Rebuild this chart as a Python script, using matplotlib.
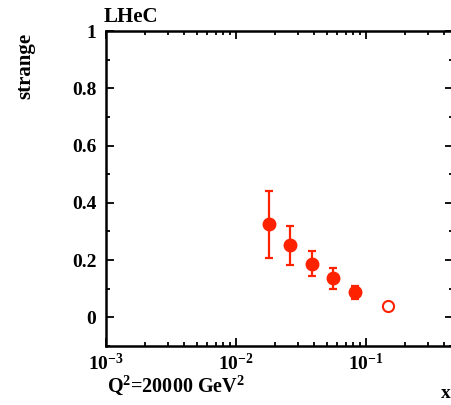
import matplotlib
matplotlib.use("Agg")
import matplotlib.pyplot as plt
from matplotlib.ticker import LogLocator, MultipleLocator, FixedLocator, NullFormatter

plt.rcParams['font.family'] = ['Liberation Serif', 'DejaVu Serif']
plt.rcParams['font.weight'] = 'bold'
plt.rcParams['mathtext.fontset'] = 'custom'
plt.rcParams['mathtext.rm'] = 'Liberation Serif:bold'
plt.rcParams['mathtext.it'] = 'Liberation Serif:bold'
plt.rcParams['mathtext.bf'] = 'Liberation Serif:bold'

red = '#ff2200'

# measured points (x, strange fraction, error)
x_meas = [0.018, 0.026, 0.0385, 0.056, 0.082]
s_meas = [0.325, 0.251, 0.188, 0.136, 0.087]
s_err = [0.117, 0.067, 0.045, 0.036, 0.024]

# open point without error
x_open = [0.148]
s_open = [0.038]

xticks = [1e-3, 1e-2, 1e-1]
xticklabels = ['$10^{-3}$', '$10^{-2}$', '$10^{-1}$']
yticks = [0, 0.2, 0.4, 0.6, 0.8, 1]
yticklabels = ['0', '0.2', '0.4', '0.6', '0.8', '1']

fig = plt.figure(figsize=(4.51, 4.05), dpi=100)
ax = fig.add_axes([106/451, 59/405, 347/451, 315/405])

ax.errorbar(x_meas, s_meas, yerr=s_err, fmt='o', color=red, ms=9, elinewidth=1.6,
            capsize=3, capthick=1.6)
ax.plot(x_open, s_open, 'o', mfc='white', mec=red, mew=1.5, ms=8)

ax.set_xscale('log')
ax.set_xlim(1e-3, 0.467)
ax.set_ylim(-0.1, 1)

ax.set_xticks(xticks)
ax.set_xticklabels(xticklabels)
ax.xaxis.set_minor_locator(LogLocator(base=10, subs=range(2, 10)))
ax.xaxis.set_minor_formatter(NullFormatter())
ax.set_yticks(yticks)
ax.set_yticklabels(yticklabels)
ax.yaxis.set_minor_locator(MultipleLocator(0.1))

ax.tick_params(which='both', direction='in', top=True, right=True, labelsize=14,
               width=1.3, color='black')
ax.tick_params(which='major', length=6)
ax.tick_params(which='minor', length=3)
ax.tick_params(axis='x', pad=5)
ax.tick_params(axis='y', pad=7)
for sp in ax.spines.values():
    sp.set_linewidth(1.8)

fig.text(104/451, 1 - 17/405, 'LHeC', fontsize=15, fontweight='bold', ha='left', va='center')
fig.text(25/451, 1 - 33/405, 'strange', fontsize=15, fontweight='bold', rotation=90,
         ha='center', va='top')
fig.text(107/451, 1 - 385/405, 'Q$^{2}$=20000 GeV$^{2}$', fontsize=14.5, fontweight='bold',
         ha='left', va='center')
fig.text(441/451, 1 - 394/405, 'x', fontsize=14, fontweight='bold', ha='left', va='center')

fig.savefig('out.png', dpi=100)
